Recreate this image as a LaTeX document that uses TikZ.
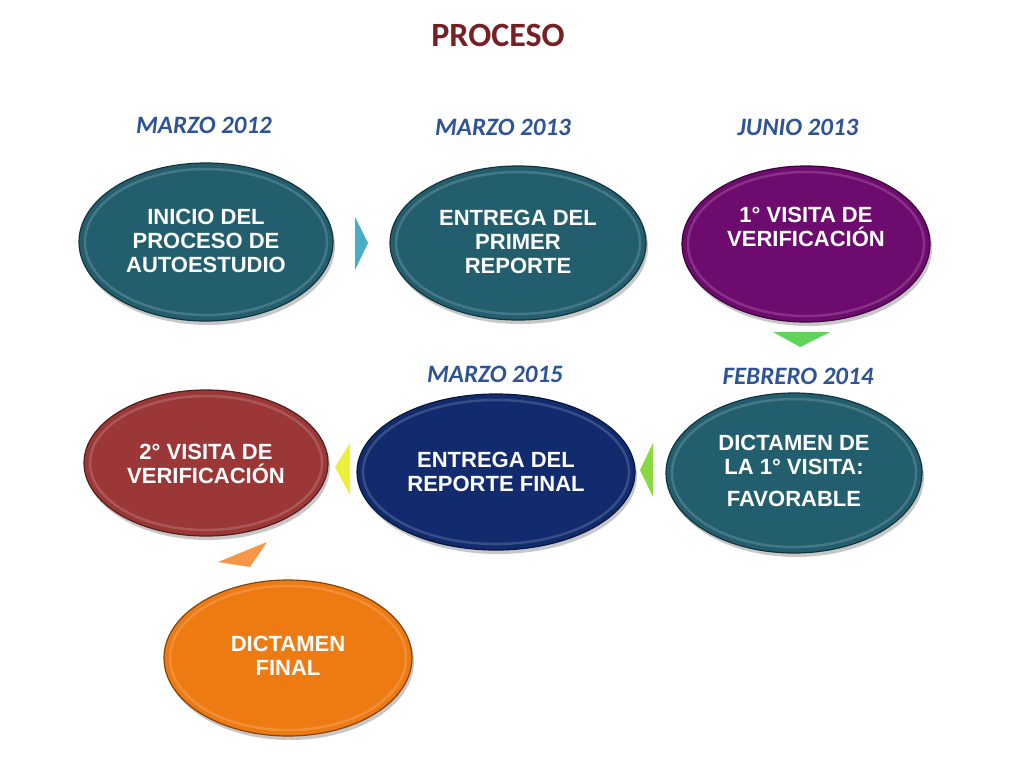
\documentclass[tikz,border=0pt]{standalone}
\usepackage{fontspec}
\setmainfont{Liberation Sans}
\newfontfamily\carlito{Carlito}
\usetikzlibrary{shapes.geometric,shadows}
\definecolor{cteal}{HTML}{235E6E}
\definecolor{cpurple}{HTML}{6E0B6E}
\definecolor{cnavy}{HTML}{112B6E}
\definecolor{cred}{HTML}{9B3737}
\definecolor{corange}{HTML}{EE7A12}
\definecolor{dateblue}{HTML}{2F5496}
\definecolor{titlered}{HTML}{762024}
\definecolor{tblue}{HTML}{4BACC6}
\definecolor{tgreen}{HTML}{5FD35A}
\definecolor{tlime}{HTML}{8BD940}
\definecolor{tyellow}{HTML}{EEEE3C}
\definecolor{torange}{HTML}{F79646}
\begin{document}
\begin{tikzpicture}[x=1pt,y=-1pt,
  oval/.style={ellipse, draw=#1!55!black, line width=1.2pt, fill=#1, inner sep=0pt,
    drop shadow={shadow xshift=2pt,shadow yshift=-4pt,opacity=0.22,fill=black}},
  txt/.style={text=white, font=\bfseries\fontsize{22}{24}\selectfont, align=center, inner sep=0pt},
  datelbl/.style={text=dateblue, font=\carlito\bfseries\itshape\fontsize{25}{28}\selectfont, inner sep=0pt},
  ring/.style={draw=white, draw opacity=0.16, line width=2.5pt},
  tri/.style={draw=none}
]
\useasboundingbox[fill=white] (0,0) rectangle (1024,768);

% title
\node[text=titlered, font=\carlito\bfseries\fontsize{34}{36}\selectfont, inner sep=0pt] (title) at (498,35) {PROCESO};

% dates
\node[datelbl] (d1) at (204,125) {MARZO 2012};
\node[datelbl] (d2) at (503,127) {MARZO 2013};
\node[datelbl] (d3) at (798,127) {JUNIO 2013};
\node[datelbl] (d4) at (798,376) {FEBRERO 2014};
\node[datelbl] (d5) at (495,374) {MARZO 2015};

% ellipses
\node[oval=cteal, minimum width=254pt, minimum height=158pt] (e1) at (206,242) {};
\node[oval=cteal, minimum width=256pt, minimum height=154pt] (e2) at (518,243) {};
\node[oval=cpurple, minimum width=248pt, minimum height=156pt] (e3) at (806,244) {};
\node[oval=cteal, minimum width=256pt, minimum height=160pt] (e4) at (794,473) {};
\node[oval=cnavy, minimum width=278pt, minimum height=156pt] (e5) at (496,472) {};
\node[oval=cred, minimum width=244pt, minimum height=146pt] (e6) at (206,463) {};
\node[oval=corange, minimum width=248pt, minimum height=156pt] (e7) at (288,658) {};

% bevel rings
\draw[ring] (e1.center) ellipse (121 and 73);
\draw[ring] (e2.center) ellipse (122 and 71);
\draw[ring] (e3.center) ellipse (118 and 72);
\draw[ring] (e4.center) ellipse (122 and 74);
\draw[ring] (e5.center) ellipse (133 and 72);
\draw[ring] (e6.center) ellipse (116 and 67);
\draw[ring] (e7.center) ellipse (118 and 72);

% texts
\node[txt] (t1) at (206,241) {INICIO DEL\\PROCESO DE\\AUTOESTUDIO};
\node[txt] (t2) at (518,242) {ENTREGA DEL\\PRIMER\\REPORTE};
\node[txt] (t3) at (806,227) {1° VISITA DE\\VERIFICACIÓN};
\node[txt] (t4) at (794,471) {DICTAMEN DE\\LA 1° VISITA:\\[8pt]FAVORABLE};
\node[txt] (t5) at (496,472) {ENTREGA DEL\\REPORTE FINAL};
\node[txt] (t6) at (206,464) {2° VISITA DE\\VERIFICACIÓN};
\node[txt] (t7) at (288,656) {DICTAMEN\\FINAL};

% arrow triangles
\fill[tblue] (355,217) -- (368,243) -- (355,270) -- cycle;
\fill[tgreen] (773,332) -- (830,332) -- (800,347) -- cycle;
\fill[tlime] (653,443) -- (640,470) -- (653,497) -- cycle;
\fill[tyellow] (350,443) -- (335,467) -- (350,495) -- cycle;
\fill[torange] (218,562) -- (267,542) -- (250,567) -- cycle;
\end{tikzpicture}
\end{document}
